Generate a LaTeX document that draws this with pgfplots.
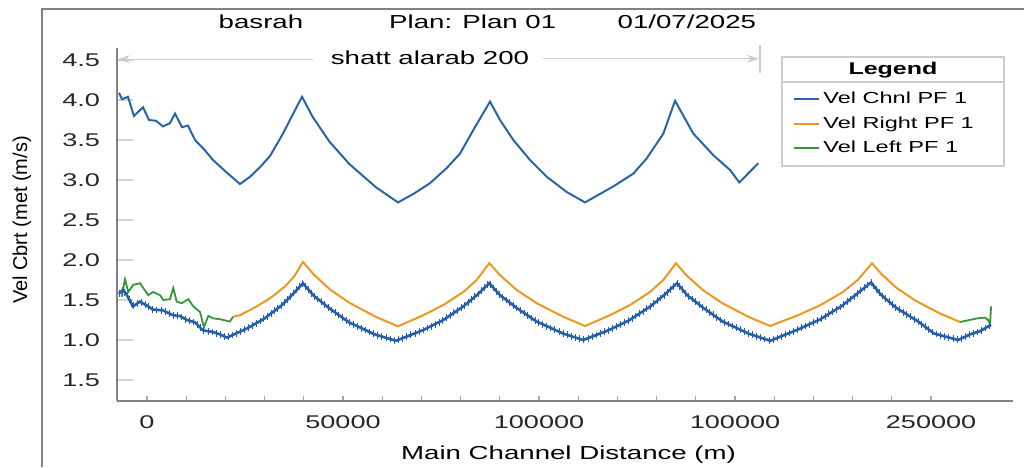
\documentclass[border=0pt]{standalone}
\usepackage{pgfplots}
\pgfplotsset{compat=1.18}
\usepackage{fontspec}
\setmainfont{Liberation Sans}[FakeStretch=1.47]
\newfontfamily\ylabfont{Liberation Sans}
\usetikzlibrary{decorations.markings, arrows.meta}
\definecolor{blueC}{RGB}{40,100,170}
\definecolor{blueD}{RGB}{35,95,172}
\definecolor{orangeC}{RGB}{236,152,32}
\definecolor{greenC}{RGB}{55,150,55}
\definecolor{axgray}{RGB}{130,130,130}
\begin{document}
\begin{tikzpicture}
\path[use as bounding box] (-58.5pt,-33pt) rectangle (453.5pt,200.5pt);
\draw[axgray, line width=1pt] (-37.5pt,-33pt) -- (-37.5pt,196pt) -- (453.5pt,196pt);
\begin{axis}[
  at={(0pt,0pt)}, anchor=south west,
  width=448pt, height=176.5pt, scale only axis,
  xmin=-7650, xmax=220900, ymin=0.2375, ymax=4.65,
  axis lines=left,
  axis line style={-, draw=axgray, line width=0.8pt},
  clip=false,
  scaled x ticks=false,
  xtick={0,50000,100000,150000,200000},
  xticklabels={0,50000,100000,100000,250000},
  minor x tick num=4,
  ytick={0.5,1,1.5,2,2.5,3,3.5,4,4.5},
  yticklabels={1.5,1.0,1.5,2.0,2.5,3.0,3.5,4.0,4.5},
  tick align=inside,
  xtick style={draw=gray!70, line width=0.6pt, /pgfplots/major tick length=2.5pt, /pgfplots/minor tick length=2.5pt},
  ytick style={draw=gray!35, line width=0.8pt, /pgfplots/major tick length=8pt},
  ticklabel style={font=\fontsize{9.2}{11}\selectfont, text=black!85},
  yticklabel style={xshift=-5pt},
  xticklabel style={yshift=-4pt},
  xlabel={Main Channel Distance (m)},
  xlabel style={at={(axis description cs:0.504,-0.153)}, anchor=center, font=\fontsize{9.4}{11}\selectfont},
  ylabel={\ylabfont Vel Cbrt (met (m/s)},
  ylabel style={at={(axis description cs:-0.106,0.5127)}, anchor=center, font=\fontsize{10}{12}\selectfont},
  legend style={at={(axis description cs:0.7545,0.885)}, anchor=north west, draw=none, fill=none, inner sep=0pt, row sep=2pt, font=\fontsize{8}{9.6}\selectfont, nodes={inner sep=1.5pt}},
  legend cell align=left,
  legend image code/.code={\draw[#1, line width=1pt] (0pt,0pt) -- (12.5pt,0pt);},
]
\addplot[blueC, line width=1pt] coordinates {
(-7143,4.09) (-6378,4.01) (-4847,4.04) (-3316,3.80) (-1020,3.91) (510,3.75) (2296,3.74) (4082,3.67) (5867,3.71) (7143,3.83) (8929,3.66) (10459,3.68) (12245,3.50) (14796,3.37) (16837,3.25) (20408,3.09) (23724,2.95) (26275,3.04) (28826,3.16) (31377,3.30) (34694,3.58) (36990,3.80) (39541,4.04) (42245,3.79) (46530,3.48) (51607,3.20) (58393,2.91) (64030,2.72) (67933,2.825) (72193,2.96) (76453,3.15) (79846,3.33) (83239,3.625) (87499,3.98) (90050,3.75) (93443,3.50) (97703,3.25) (101964,3.04) (107066,2.85) (111734,2.72) (118953,2.92) (124055,3.08) (127473,3.27) (131708,3.58) (134693,3.99) (139361,3.58) (144463,3.31) (148723,3.125) (151096,2.97) (155942,3.21)
};
\addlegendentry{Vel Chnl PF 1}
\addplot[orangeC, line width=1pt] coordinates {
(21939,1.29) (23724,1.31) (28138,1.424) (31683,1.532) (35204,1.669) (37551,1.795) (39796,1.975) (42474,1.822) (46709,1.631) (51734,1.462) (58469,1.288) (64030,1.17) (70484,1.31) (75587,1.4375) (80688,1.60) (84106,1.75) (87321,1.96) (90050,1.81) (94310,1.625) (99412,1.46) (106198,1.29) (111734,1.175) (118111,1.31) (123214,1.437) (128316,1.60) (131708,1.75) (134948,1.96) (137575,1.81) (141785,1.625) (146759,1.46) (153417,1.29) (158927,1.175) (166070,1.31) (171809,1.437) (177524,1.60) (181300,1.75) (184948,1.96) (187422,1.82) (191351,1.646) (196019,1.492) (202243,1.332) (207396,1.225)
};
\addlegendentry{Vel Right PF 1}
\addplot[greenC, line width=0.9pt] coordinates {
(-6454,1.54) (-5612,1.76) (-4770,1.60) (-3495,1.69) (-1786,1.71) (332,1.56) (1607,1.60) (3316,1.56) (4158,1.50) (5867,1.51) (6709,1.65) (7576,1.48) (8852,1.46) (10536,1.51) (11811,1.42) (13520,1.35) (14541,1.16) (15638,1.30) (16913,1.27) (18622,1.26) (21173,1.23) (21939,1.29)
};
\addlegendentry{Vel Left PF 1}
\addplot[greenC, line width=0.9pt, forget plot] coordinates {
(207396,1.225) (211733,1.27) (213774,1.28) (214539,1.25) (215049,1.20) (215304,1.42)
};
\addplot[blueD, line width=1.3pt, forget plot, postaction={decorate}, decoration={markings, mark=between positions 0 and 1 step 2.2pt with {\pgftransformresetnontranslations \draw[blueD, line width=0.45pt] (0pt,-1.7pt) -- (0pt,1.7pt);}}] coordinates {
(-7143,1.58) (-6122,1.63) (-5102,1.56) (-3571,1.42) (-1786,1.48) (0,1.43) (1531,1.38) (4082,1.37) (6633,1.31) (8418,1.30) (10204,1.25) (12245,1.22) (14286,1.12) (16837,1.10) (18622,1.07) (20408,1.03) (25740,1.15) (30000,1.27) (34260,1.43) (37092,1.567) (39796,1.71) (42398,1.559) (46556,1.395) (51479,1.223) (58061,1.071) (63520,0.99) (70484,1.125) (75587,1.25) (80688,1.42) (84106,1.56) (87321,1.71) (90050,1.56) (94310,1.40) (99412,1.23) (106198,1.08) (111300,1.0) (117882,1.125) (123137,1.25) (128392,1.42) (131861,1.56) (135203,1.71) (137805,1.56) (141963,1.40) (146887,1.23) (153468,1.08) (158927,0.99) (166019,1.13) (171682,1.257) (177346,1.43) (181095,1.577) (184692,1.72) (187142,1.569) (191019,1.405) (196657,1.233) (200764,1.081) (206886,1.0) (209947,1.07) (212498,1.11) (215304,1.19)
};
% annotation arrows
\draw[gray!40, line width=0.6pt, -{Stealth[length=6pt,width=4pt]}] (axis cs:42350,4.51) -- (axis cs:-7400,4.51);
\draw[gray!40, line width=0.6pt, -{Stealth[length=6pt,width=4pt]}] (axis cs:101020,4.515) -- (axis cs:156100,4.515);
\draw[gray!40, line width=0.8pt] (axis cs:156400,4.69) -- (axis cs:156400,4.34);
\node[font=\fontsize{9.4}{11}\selectfont] at (axis description cs:0.3493,0.973) {shatt alarab 200};
% title
\node[font=\fontsize{9.4}{11}\selectfont] at (axis description cs:0.1607,1.0737) {basrah};
\node[font=\fontsize{9.4}{11}\selectfont] at (axis description cs:0.397,1.0737) {Plan: Plan 01};
\node[font=\fontsize{9.4}{11}\selectfont] at (axis description cs:0.636,1.0737) {01/07/2025};
% legend frame
\draw[gray!40, line width=0.6pt] (axis description cs:0.7422,0.6657) rectangle (axis description cs:0.9900,0.9745);
\draw[gray!40, line width=0.6pt] (axis description cs:0.7422,0.9037) -- (axis description cs:0.9900,0.9037);
\node[font=\bfseries\fontsize{8.5}{10}\selectfont] at (axis description cs:0.866,0.9377) {Legend};
\end{axis}
\end{tikzpicture}
\end{document}
